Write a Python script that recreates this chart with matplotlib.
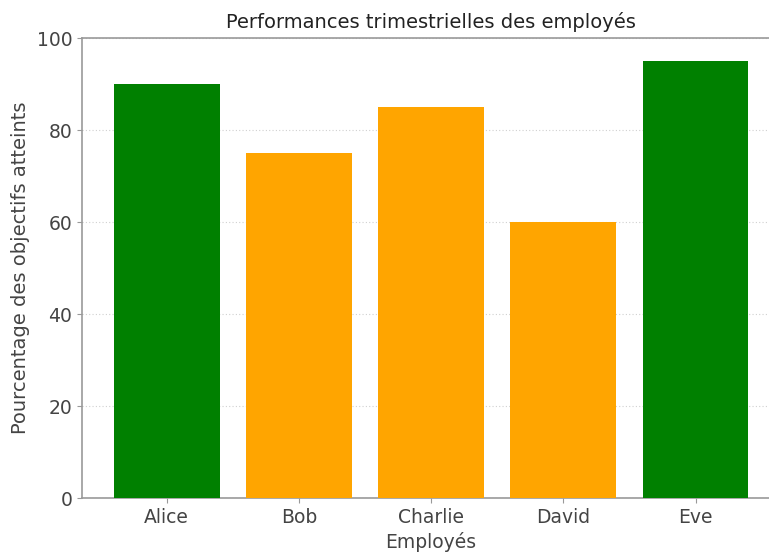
import matplotlib
matplotlib.use("Agg")
import matplotlib.pyplot as plt

employees = ["Alice", "Bob", "Charlie", "David", "Eve"]
scores = [90, 75, 85, 60, 95]
bar_colors = ["green", "orange", "orange", "orange", "green"]

plt.rcParams['font.family'] = ['DejaVu Sans']
text_color = "#444444"
spine_color = "#999999"

fig = plt.figure(figsize=(7.69, 5.56), dpi=100)
ax = fig.add_axes([0.1066, 0.1043, 0.908, 0.8273])
ax.bar(employees, scores, color=bar_colors, width=0.8, zorder=3)
ax.set_ylim(0, 100)
ax.set_yticks([0, 20, 40, 60, 80, 100])
ax.yaxis.grid(True, linestyle=(0, (1, 2)), color="#d0d0d0", linewidth=0.8, zorder=0)
for s in ["top", "left", "bottom", "right"]:
    ax.spines[s].set_color(spine_color)
    ax.spines[s].set_linewidth(1.2)
ax.tick_params(colors=spine_color, labelcolor=text_color, labelsize=13.5)
ax.set_title("Performances trimestrielles des employés", fontsize=14, color="#222222", pad=7)
ax.set_xlabel("Employés", fontsize=13.5, color=text_color, labelpad=4)
ax.set_ylabel("Pourcentage des objectifs atteints", fontsize=14, color=text_color, labelpad=5)
fig.savefig("out.png", dpi=100)
